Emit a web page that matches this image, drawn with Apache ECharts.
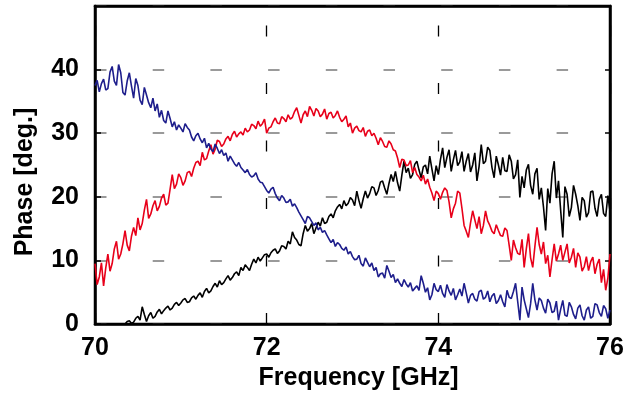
<!DOCTYPE html>
<html>
<head>
<meta charset="utf-8">
<script src="https://cdn.jsdelivr.net/npm/echarts@6/dist/echarts.min.js"></script>
<style>
html,body{margin:0;padding:0;background:#fff;}
#chart{width:636px;height:403px;}
</style>
</head>
<body>
<div id="chart"></div>
<script>
// Frequency samples (GHz), one row = 0.5 GHz
const freq = [
70,70.025,70.05,70.075,70.1,70.125,70.15,70.175,70.2,70.225,70.25,70.275,70.3,70.325,70.35,70.375,70.4,70.425,70.45,70.475,
70.5,70.525,70.55,70.575,70.6,70.625,70.65,70.675,70.7,70.725,70.75,70.775,70.8,70.825,70.85,70.875,70.9,70.925,70.95,70.975,
71,71.025,71.05,71.075,71.1,71.125,71.15,71.175,71.2,71.225,71.25,71.275,71.3,71.325,71.35,71.375,71.4,71.425,71.45,71.475,
71.5,71.525,71.55,71.575,71.6,71.625,71.65,71.675,71.7,71.725,71.75,71.775,71.8,71.825,71.85,71.875,71.9,71.925,71.95,71.975,
72,72.025,72.05,72.075,72.1,72.125,72.15,72.175,72.2,72.225,72.25,72.275,72.3,72.325,72.35,72.375,72.4,72.425,72.45,72.475,
72.5,72.525,72.55,72.575,72.6,72.625,72.65,72.675,72.7,72.725,72.75,72.775,72.8,72.825,72.85,72.875,72.9,72.925,72.95,72.975,
73,73.025,73.05,73.075,73.1,73.125,73.15,73.175,73.2,73.225,73.25,73.275,73.3,73.325,73.35,73.375,73.4,73.425,73.45,73.475,
73.5,73.525,73.55,73.575,73.6,73.625,73.65,73.675,73.7,73.725,73.75,73.775,73.8,73.825,73.85,73.875,73.9,73.925,73.95,73.975,
74,74.025,74.05,74.075,74.1,74.125,74.15,74.175,74.2,74.225,74.25,74.275,74.3,74.325,74.35,74.375,74.4,74.425,74.45,74.475,
74.5,74.525,74.55,74.575,74.6,74.625,74.65,74.675,74.7,74.725,74.75,74.775,74.8,74.825,74.85,74.875,74.9,74.925,74.95,74.975,
75,75.025,75.05,75.075,75.1,75.125,75.15,75.175,75.2,75.225,75.25,75.275,75.3,75.325,75.35,75.375,75.4,75.425,75.45,75.475,
75.5,75.525,75.55,75.575,75.6,75.625,75.65,75.675,75.7,75.725,75.75,75.775,75.8,75.825,75.85,75.875,75.9,75.925,75.95,75.975,
76];

// Phase (deg.) - blue trace
const bluePhase = [
37.5,38.3,36.5,37.8,38.5,36.8,37,39.6,40.5,38.2,37.5,40.8,39.5,36.4,36,38.2,39.5,37.4,35.5,38.6,
37.5,35.2,34.5,37.2,36,34.8,34,35.5,33.5,34.6,32.5,33.6,32,31.6,33.5,32.3,31,31.8,30.5,31.3,
30.8,30.2,31.5,30.9,30.5,29.4,28.8,29.6,30,29.1,28.5,29.2,27.7,28.4,27.5,27.1,28.3,27.6,26.8,27.4,
26.5,26.9,25.6,26.4,25.8,25.2,24.8,25.4,24.6,24.2,23.8,24.3,23.5,23.1,23.3,23.8,22.8,22.3,22.2,21.6,
21,20.6,21.2,21.5,20.5,19.8,19.4,20.2,19.8,19.1,19.2,19.6,18.5,18.9,18.3,17.6,17,16.4,15.8,16.9,
16.7,16.1,15.5,15.9,14.8,15.2,14.4,14.7,14,13.4,12.8,13.3,12.2,12.8,12.5,11.9,11.6,12.1,11,11.4,
10.6,10.1,10.2,10.8,9.5,9.1,10.4,9.7,9,9.6,8.4,8.9,7.4,7.9,8,7.2,9.2,8.3,7.3,7.8,
6.5,7.1,6.4,5.9,7,6.3,5.8,6.5,5.2,5.6,6,5.3,7.6,6.4,5,5.7,3.8,4.6,6.4,5.4,
5.1,6.1,4.8,4.2,6.2,5.2,4.5,5.6,3.8,4.6,5.5,4.4,6.4,4.9,3.3,4.5,4.8,3.9,3.6,5.1,
5.3,3.9,4.2,5.2,3.5,4.4,4.8,3.2,3.7,4.6,3.5,2.7,5.3,4.2,4,5.1,6.4,3.5,0.6,5.8,
3.8,2.4,1,3.2,6.4,3.8,2.2,4.1,3.7,2.5,1.7,3.9,3.3,1.8,2,3.6,0.6,2.3,3.7,1.4,
1.2,3.4,2.7,1.5,0.8,2.5,3,1.3,0.6,2.2,2.7,0.9,1.2,3.2,3,1.8,1.2,2.9,2.4,0.9,
2.2];

// Phase (deg.) - red trace
const redPhase = [
9.5,6.2,7.4,9.6,6,8.8,11,8.3,9.5,11.8,13,10.2,11,12.6,14.7,12.4,11.5,13.8,15.2,13.9,
16.7,14.8,15.8,17.9,19.6,16.6,17.3,18.6,19.4,17.8,18.5,19.8,20.4,18.7,19,21.2,23.5,21.3,22,23.6,
23,21.8,22.5,23.8,24,23.2,24.5,25.4,25.6,24.9,27,25.8,26,27.2,28.2,26.7,27.5,28.9,28.7,27.9,
28.3,29.1,29.5,28.8,29.8,30.3,29.4,29.9,30.2,29.7,30.8,30.2,30.5,31.4,31.2,30.7,31.9,31.1,31.5,32.2,
30,30.8,31,31.8,32.4,31.6,31.5,32.6,32.3,31.8,32.9,32.2,32.5,33.4,34,32.8,31.6,32.9,33.5,32.6,
34.2,33.6,32.7,33.9,33.5,32.6,33,33.8,32.2,33.1,33.3,32.4,32.8,33.5,32.5,31.8,32.2,32.7,31,31.6,
30,30.8,31.1,30.4,30.2,30.9,29.5,30.3,30.5,29.6,30,29.2,28.2,29.3,28.7,27.9,27.8,28.8,28.3,27.4,
27.2,26.1,24.6,25.9,25.8,24.9,25,25.7,23.8,24.6,23.5,23.1,22.5,23.4,22,22.8,21.5,20.6,19.4,20.9,
20.5,19.6,20.7,21.4,21,19.2,16.7,18.1,19,20.9,20.6,18.2,15.5,14.6,13.6,15.9,17.8,16.4,15,16.9,
14.2,15.5,17.8,16.2,15.5,14.6,14.2,15.6,14.7,13.9,13.8,15.1,14.7,12.4,10,13.2,12,11.1,10.9,13.3,
8.9,11.8,14.2,10.4,8.9,12.2,15.2,12.5,11,12.9,9.5,10.8,7.4,10.1,12.6,9.9,11,12.4,10,11.3,
12.6,9.6,10.5,11.9,8.9,11.2,10.5,8.3,9,10.6,8.4,9.8,10.5,7.9,9.4,10.2,6.5,8.6,5.3,7.2,
11];

// Phase (deg.) - black trace (below the axis, not visible, before 70.35 GHz)
const blackPhase = [
null,null,null,null,null,null,null,null,null,null,null,null,null,null,0,0.4,0.5,0.1,0.3,0.9,
1.2,0.6,2.7,1.5,0.4,1.3,1.8,0.9,1.2,1.9,2.3,1.6,2.1,2.5,2.8,2.2,2.5,3.1,3.4,2.9,
3.3,3.8,4,3.4,3.5,4.1,4.4,3.9,4.5,4.9,4.2,5.1,5.6,4.9,5.2,5.9,6.4,5.8,6.8,6.2,
6.5,7.1,7.6,6.9,7.3,7.9,8.2,7.6,8.9,8.4,9.3,8.9,8.4,9.4,10.2,9.6,10.5,9.9,10.4,10.9,
11,10.5,11.2,11.6,11.8,11.1,11.5,12.3,12.2,11.8,13,12.6,14.5,13.6,13.2,12.5,12.3,14.2,15.5,14.6,
15,15.8,14.2,15.1,16,15.4,16.7,15.8,16,16.9,17.3,16.7,17.8,18.4,18.8,18.1,19.4,18.6,19,19.9,
19.5,18.6,20.9,19.4,18.2,19.7,20.9,19.8,20.5,21.6,21.4,20.2,21,22.3,22.5,21.4,20.4,22.1,23.5,22.4,
24,22.2,20.9,23.4,25.6,23.8,24.5,22.9,23.5,25.1,25.6,24.2,23,24.7,25,23.6,26.4,24.4,22.5,24.9,
23.5,25.9,27.7,24.6,26.2,27.4,24,25.8,27.3,24.9,25.5,27.1,24,25.6,26.8,23.9,25,26.9,22.5,24.8,
28.2,25.2,25.6,27.8,27.3,24.6,23,26.4,25,23.4,26.2,24.1,24,26.6,25.6,22.8,23.5,25.8,19.9,23.2,
21.4,24.2,25.1,21.8,20.4,23.6,24.5,19.6,21.4,18.4,14.7,21.3,19,23.6,25.6,19.8,22.5,17.9,13.6,21.6,
20.4,16.9,18.3,21.8,20.4,18.6,16.3,19.9,19.4,16.8,17.5,20.8,20.9,18.2,16.9,19.6,20.4,17.4,16.9,20.2,
17.8];

const xTicks = [70, 72, 74, 76];
const yTicks = [0, 10, 20, 30, 40];

function pairs(vals){ return freq.map((f,i)=>[f, vals[i]]); }

const FONT = '"Liberation Sans", Arial, Helvetica, sans-serif';
const chart = echarts.init(document.getElementById('chart'), null, {renderer:'canvas'});

const option = {
  animation: false,
  backgroundColor: '#fff',
  grid: { left: 95, right: 26, top: 6, bottom: 79, show: true, borderColor: '#000', borderWidth: 2.5, containLabel: false },
  xAxis: [{
    type: 'value', min: 70, max: 76, interval: 2, position: 'bottom',
    name: 'Frequency [GHz]', nameLocation: 'middle', nameGap: 36,
    nameTextStyle: { fontFamily: FONT, fontSize: 25, fontWeight: 'bold', color: '#000', padding: [0,0,0,12] },
    axisLine: { show: true, onZero: false, lineStyle: { color: '#000', width: 2.5 } },
    axisTick: { show: false },
    axisLabel: { fontFamily: FONT, fontSize: 25, fontWeight: 'bold', color: '#000', margin: 12, showMinLabel: true, showMaxLabel: true,
      formatter: v => xTicks.includes(v) ? String(v) : '' },
    splitLine: { show: true, lineStyle: { color: '#000', width: 1.3, type: [11, 46.5], dashOffset: 38 } }
  }, {
    type: 'value', min: 70, max: 76, interval: 2, position: 'top',
    axisLine: { show: true, onZero: false, lineStyle: { color: '#000', width: 2.5 } },
    axisTick: { show: false }, axisLabel: { show: false }, splitLine: { show: false }
  }],
  yAxis: [{
    type: 'value', min: 0, max: 50, interval: 10, position: 'left',
    name: 'Phase [deg.]', nameLocation: 'middle', nameGap: 57,
    nameTextStyle: { fontFamily: FONT, fontSize: 25, fontWeight: 'bold', color: '#000', padding: [0,34,0,0] },
    axisLine: { show: true, onZero: false, lineStyle: { color: '#000', width: 2.5 } },
    axisTick: { show: true, inside: true, length: 6, lineStyle: { color: '#000', width: 1.5 } },
    axisLabel: { fontFamily: FONT, fontSize: 25, fontWeight: 'bold', color: '#000', margin: 16, showMaxLabel: false,
      formatter: v => yTicks.includes(v) ? String(v) : '' },
    splitLine: { show: true, lineStyle: { color: '#7a7a7a', width: 1.6, type: [11.5, 46.2], dashOffset: 0 } }
  }, {
    type: 'value', min: 0, max: 50, interval: 10, position: 'right',
    axisLine: { show: true, onZero: false, lineStyle: { color: '#000', width: 2.5 } },
    axisTick: { show: true, inside: true, length: 5, lineStyle: { color: '#000', width: 1.5 } },
    axisLabel: { show: false }, splitLine: { show: false }
  }],
  series: [
    { name: 'black', type: 'line', data: pairs(blackPhase), showSymbol: false, symbol: 'none', connectNulls: false, clip: true,
      lineStyle: { color: '#000000', width: 1.6 }, z: 2 },
    { name: 'red', type: 'line', data: pairs(redPhase), showSymbol: false, symbol: 'none', clip: true,
      lineStyle: { color: '#e8001a', width: 1.6 }, z: 3 },
    { name: 'blue', type: 'line', data: pairs(bluePhase), showSymbol: false, symbol: 'none', clip: true,
      lineStyle: { color: '#1e1e8c', width: 1.6 }, z: 4 }
  ]
};
chart.setOption(option);
</script>
</body>
</html>
